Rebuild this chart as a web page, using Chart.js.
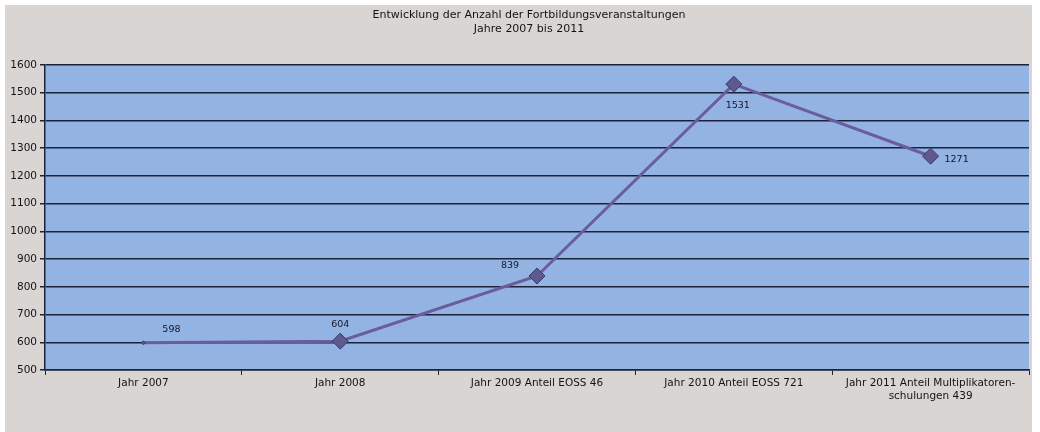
<!DOCTYPE html>
<html lang="de">
<head>
    <meta charset="UTF-8">
    <title>Fortbildungsveranstaltungen</title>
    <script src="https://cdn.jsdelivr.net/npm/chart.js"></script>
    <style>
        html, body { margin: 0; padding: 0; background: #ffffff; }
        #wrap { width: 1040px; height: 432px; }
    </style>
</head>
<body>
    <div id="wrap"><canvas id="myChart" width="1040" height="432"></canvas></div>

    <script>
        const categories = [
            'Jahr 2007',
            'Jahr 2008',
            'Jahr 2009 Anteil EOSS 46',
            'Jahr 2010 Anteil EOSS 721',
            ['Jahr 2011 Anteil Multiplikatoren-', 'schulungen 439']
        ];
        const veranstaltungen = [598, 604, 839, 1531, 1271];
        const yTicks = { min: 500, max: 1600, step: 100 };
        const titleLines = ['Entwicklung der Anzahl der Fortbildungsveranstaltungen', 'Jahre 2007 bis 2011'];

        // where each value label sits relative to its point
        const labelShift = [[28, -13], [0, -17], [-27, -10], [4, 21], [26, 3]];

        const bgPlugin = {
            id: 'bg',
            beforeDraw(chart) {
                const c = chart.ctx;
                const a = chart.chartArea;
                c.save();
                c.fillStyle = '#d9d5d2';
                c.fillRect(5, 5, 1027, chart.height - 5);
                c.fillStyle = '#93b3e2';
                c.fillRect(a.left, a.top, a.right - a.left, a.bottom - a.top);
                // title, centred a little right of the canvas middle like the original
                c.font = '11px "DejaVu Sans", sans-serif';
                c.fillStyle = '#141414';
                c.textAlign = 'center';
                c.textBaseline = 'middle';
                const cx = (a.left + a.right) / 2 - 8;
                titleLines.forEach((t, i) => c.fillText(t, cx, 15 + i * 14));
                c.restore();
            }
        };

        const valueLabels = {
            id: 'valueLabels',
            afterDatasetsDraw(chart) {
                const c = chart.ctx;
                const pts = chart.getDatasetMeta(0).data;
                c.save();
                c.font = '9.5px "DejaVu Sans", sans-serif';
                c.fillStyle = '#15152a';
                c.textAlign = 'center';
                c.textBaseline = 'middle';
                pts.forEach((p, i) => {
                    c.fillText(String(veranstaltungen[i]), p.x + labelShift[i][0], p.y + labelShift[i][1]);
                });
                c.restore();
            }
        };

        const ctx = document.getElementById('myChart').getContext('2d');
        Chart.defaults.font.family = '"DejaVu Sans", sans-serif';
        Chart.defaults.color = '#141414';

        const myChart = new Chart(ctx, {
            type: 'line',
            data: {
                labels: categories,
                datasets: [{
                    label: 'Fortbildungsveranstaltungen',
                    data: veranstaltungen,
                    borderColor: '#6a5c9e',
                    borderWidth: 3,
                    tension: 0,
                    pointStyle: 'rectRot',
                    pointRadius: [2, 8, 8, 8, 8],
                    pointBackgroundColor: '#5e5a8e',
                    pointBorderColor: '#3d3b69',
                    pointBorderWidth: 1
                }]
            },
            options: {
                responsive: false,
                maintainAspectRatio: false,
                animation: false,
                layout: { padding: { left: 5, right: 11, top: 65, bottom: 0 } },
                plugins: {
                    legend: { display: false },
                    tooltip: { enabled: false },
                    title: { display: false }
                },
                scales: {
                    x: {
                        offset: true,
                        grid: {
                            display: true,
                            offset: true,
                            drawOnChartArea: false,
                            tickLength: 5,
                            color: '#1c2238'
                        },
                        border: { color: '#1c2238', width: 1.5 },
                        ticks: {
                            font: { size: 10.5 },
                            padding: 2,
                            maxRotation: 0,
                            autoSkip: false
                        },
                        afterFit(scale) { scale.height = 62; }
                    },
                    y: {
                        min: yTicks.min,
                        max: yTicks.max,
                        ticks: {
                            stepSize: yTicks.step,
                            font: { size: 10.5 },
                            padding: 3,
                            callback: v => String(v)
                        },
                        grid: {
                            color: '#1c2238',
                            lineWidth: 1.5,
                            tickLength: 5
                        },
                        border: { color: '#1c2238', width: 1.5 },
                        afterFit(scale) { scale.width = 40; }
                    }
                }
            },
            plugins: [bgPlugin, valueLabels]
        });
    </script>
</body>
</html>
